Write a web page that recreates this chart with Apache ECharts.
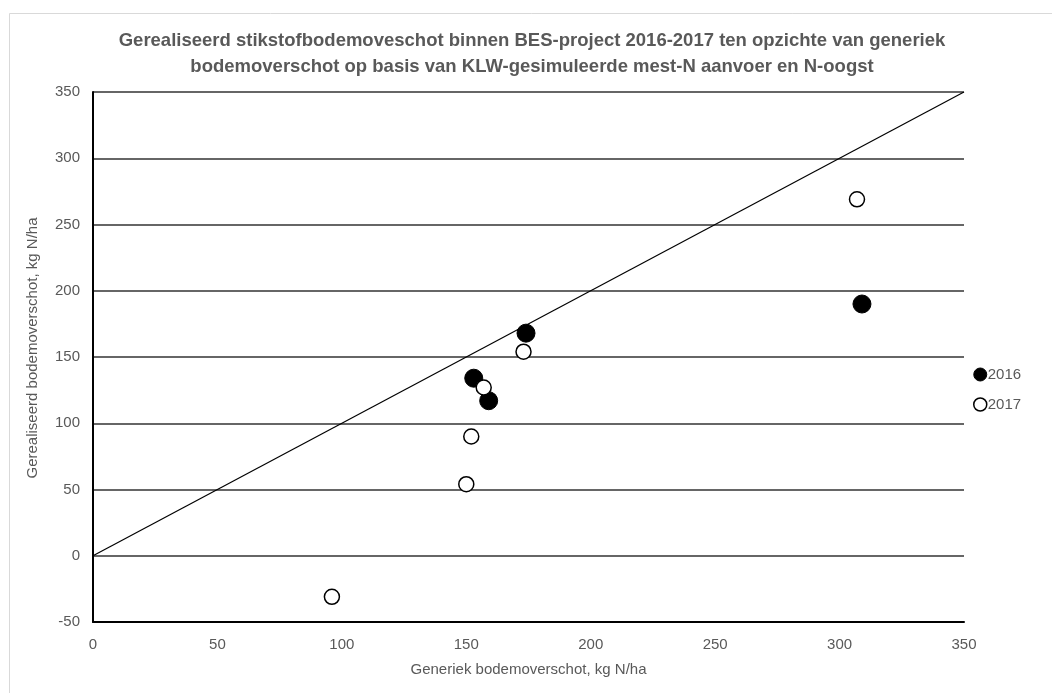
<!DOCTYPE html>
<html>
<head>
<meta charset="utf-8">
<script src="https://cdn.jsdelivr.net/npm/echarts@6/dist/echarts.min.js"></script>
<style>
html,body{margin:0;padding:0;background:#fff;}
#chart{width:1052px;height:693px;}
</style>
</head>
<body>
<div id="chart"></div>
<script>
// ---- data ----
const titleLines = [
  'Gerealiseerd stikstofbodemoveschot binnen BES-project 2016-2017 ten opzichte van generiek',
  'bodemoverschot op basis van KLW-gesimuleerde mest-N aanvoer en N-oogst'
];
const xAxisName = 'Generiek bodemoverschot, kg N/ha';
const yAxisName = 'Gerealiseerd bodemoverschot, kg N/ha';
const xTicks = [0, 50, 100, 150, 200, 250, 300, 350];
const yTicks = [-50, 0, 50, 100, 150, 200, 250, 300, 350];
const seriesNames = ['2016', '2017'];
const x2016 = [153, 159, 174, 309];
const y2016 = [134, 117, 168, 190];
const x2017 = [96, 150, 152, 157, 173, 307];
const y2017 = [-31, 54, 90, 127, 154, 269];
const refLineX = [0, 350];
const refLineY = [0, 350];

const font = '"Liberation Sans", "Noto Sans", sans-serif';
const textColor = '#595959';

const pts = (xs, ys) => xs.map((x, i) => [x, ys[i]]);

const chart = echarts.init(document.getElementById('chart'));
chart.setOption({
  animation: false,
  backgroundColor: '#fff',
  textStyle: { fontFamily: font },
  graphic: [{
    type: 'rect', left: 7, top: 11, silent: true, z: -10,
    shape: { width: 1200, height: 900 },
    style: { fill: 'none', stroke: '#d9d9d9', lineWidth: 1 }
  }],
  title: {
    text: titleLines.join('\n'),
    left: 527, top: 23, textAlign: 'center',
    textStyle: { fontFamily: font, fontSize: 18.5, fontWeight: 'bold', color: textColor, lineHeight: 26 }
  },
  legend: {
    orient: 'vertical', left: 968, top: 362, itemGap: 15,
    itemWidth: 13, itemHeight: 13,
    textStyle: { fontFamily: font, fontSize: 15, color: textColor, padding: [0, 0, 0, -4] },
    data: [
      { name: seriesNames[0], icon: 'circle', itemStyle: { color: '#000', borderColor: '#000', borderWidth: 1 } },
      { name: seriesNames[1], icon: 'circle', itemStyle: { color: '#fff', borderColor: '#000', borderWidth: 1.5 } }
    ]
  },
  grid: { left: 93, right: 88, top: 92, bottom: 71 },
  xAxis: {
    type: 'value', min: xTicks[0], max: xTicks[xTicks.length - 1], interval: 50,
    name: xAxisName, nameLocation: 'middle', nameGap: 40,
    nameTextStyle: { fontFamily: font, fontSize: 15, color: textColor },
    axisLine: { show: true, onZero: false, lineStyle: { color: '#000', width: 2 } },
    axisTick: { show: false },
    axisLabel: { fontFamily: font, fontSize: 15, color: textColor, margin: 15 },
    splitLine: { show: false }
  },
  yAxis: {
    type: 'value', min: yTicks[0], max: yTicks[yTicks.length - 1], interval: 50,
    name: yAxisName, nameLocation: 'middle', nameGap: 53,
    nameTextStyle: { fontFamily: font, fontSize: 15, color: textColor, padding: [0, 0, 0, 18] },
    axisLine: { show: true, onZero: false, lineStyle: { color: '#000', width: 2 } },
    axisTick: { show: false },
    axisLabel: { fontFamily: font, fontSize: 15, color: textColor, margin: 13 },
    splitLine: { show: true, lineStyle: { color: '#333', width: 1.5 } }
  },
  series: [
    {
      name: 'ref', type: 'line', data: pts(refLineX, refLineY), symbol: 'none',
      lineStyle: { color: '#000', width: 1.2 }, silent: true, z: 1
    },
    {
      name: seriesNames[0], type: 'scatter', data: pts(x2016, y2016),
      symbol: 'circle', symbolSize: 18,
      itemStyle: { color: '#000', borderColor: '#000', borderWidth: 1, opacity: 1 }, z: 2
    },
    {
      name: seriesNames[1], type: 'scatter', data: pts(x2017, y2017),
      symbol: 'circle', symbolSize: 15,
      itemStyle: { color: '#fff', borderColor: '#000', borderWidth: 1.5, opacity: 1 }, z: 3
    }
  ]
});
</script>
</body>
</html>
